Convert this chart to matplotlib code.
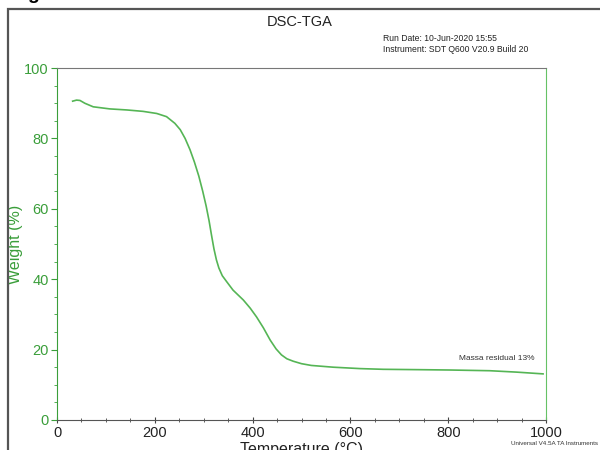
import numpy as np
import matplotlib.pyplot as plt
from matplotlib.patches import Rectangle
from matplotlib.ticker import MultipleLocator

plt.rcParams['font.family'] = ['Liberation Sans', 'DejaVu Sans']

# curve (temperature in C, weight in %)
temp = [32, 40, 47, 57, 74, 108, 143, 176, 204, 224, 241, 252, 262, 272, 281,
        290, 298, 305, 311, 316, 321, 326, 331, 338, 347, 360, 381, 395, 408,
        422, 436, 448, 459, 470, 483, 500, 520, 565, 620, 667, 740, 804, 885,
        940, 994]
weight = [90.6, 90.9, 90.8, 90.0, 89.0, 88.4, 88.1, 87.7, 87.1, 86.2, 84.3, 82.5,
          80.0, 76.8, 73.3, 69.3, 65.0, 60.8, 56.6, 52.5, 48.6, 45.5, 43.2, 41.0,
          39.3, 36.9, 34.1, 31.8, 29.3, 26.2, 22.7, 20.2, 18.5, 17.4, 16.7, 16.0,
          15.5, 15.0, 14.6, 14.4, 14.3, 14.2, 14.0, 13.6, 13.1]

green = '#3a9e3a'
line_green = '#55b555'

fig = plt.figure(figsize=(6, 4.5), dpi=100)
ax = fig.add_axes([0.095, 0.0667, 0.815, 0.782])

ax.plot(temp, weight, color=line_green, lw=1.2)
ax.set_xlim(0, 1000)
ax.set_ylim(0, 100)
ax.xaxis.set_major_locator(MultipleLocator(200))
ax.xaxis.set_minor_locator(MultipleLocator(50))
ax.yaxis.set_major_locator(MultipleLocator(20))
ax.yaxis.set_minor_locator(MultipleLocator(5))

ax.tick_params(axis='y', which='both', colors=green, labelsize=10.5, direction='out')
ax.tick_params(axis='y', which='major', length=4, pad=2)
ax.tick_params(axis='y', which='minor', length=2)
ax.tick_params(axis='x', which='both', colors='#444444', labelsize=10.5,
               labelcolor='#222222', direction='inout')
ax.tick_params(axis='x', which='major', length=5, pad=2)
ax.tick_params(axis='x', which='minor', length=3)

ax.spines['left'].set_color(green)
ax.spines['right'].set_color('#66c266')
ax.spines['top'].set_color('#777777')
ax.spines['bottom'].set_color('#555555')

ax.set_ylabel('Weight (%)', color=green, fontsize=11.5)
ax.yaxis.set_label_coords(-0.07, 0.5)
ax.set_xlabel('Temperature (°C)', color='#222222', fontsize=11.5, labelpad=1)

ax.text(977, 17.5, 'Massa residual 13%', fontsize=6, ha='right', va='center',
        color='#333333')

fig.text(0.5, 0.951, 'DSC-TGA', ha='center', va='center', fontsize=10.5, color='#222222')
fig.text(0.638, 0.915, 'Run Date: 10-Jun-2020 15:55', fontsize=6.2, va='center',
         color='#222222')
fig.text(0.638, 0.889, 'Instrument: SDT Q600 V20.9 Build 20', fontsize=6.2,
         va='center', color='#222222')
fig.text(0.997, 0.015, 'Universal V4.5A TA Instruments', fontsize=4.5, ha='right',
         va='center', color='#333333')

# outer frame of the original page
fig.patches.append(Rectangle((0.014, -0.1), 1.1, 1.08, transform=fig.transFigure,
                             fill=False, edgecolor='#555555', lw=1.6))
fig.text(0.055, 1.012, 'g', fontsize=14, fontweight='bold', ha='center', va='center')

fig.savefig('out.png', dpi=100)
